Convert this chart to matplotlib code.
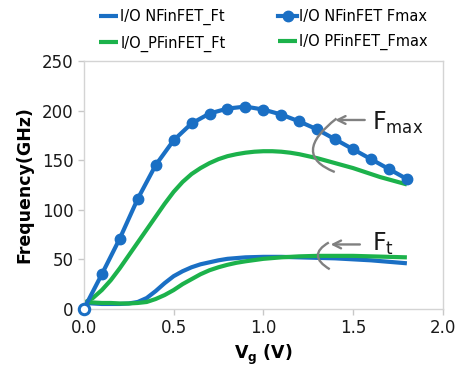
import numpy as np
import matplotlib
matplotlib.use("Agg")
import matplotlib.pyplot as plt
from matplotlib.path import Path
from matplotlib.patches import PathPatch

# ---- data ----
vg_fmax_n = [0.0, 0.1, 0.2, 0.3, 0.4, 0.5, 0.6, 0.7, 0.8, 0.9,
             1.0, 1.1, 1.2, 1.3, 1.4, 1.5, 1.6, 1.7, 1.8]
fmax_n = [0, 35, 71, 111, 145, 170, 187, 197, 202, 204,
          201, 196, 189, 181, 171, 161, 151, 141, 131]

vg_fmax_p = [0.0, 0.05, 0.1, 0.15, 0.2, 0.25, 0.3, 0.35, 0.4, 0.45, 0.5, 0.55,
             0.6, 0.65, 0.7, 0.75, 0.8, 0.85, 0.9, 0.95, 1.0, 1.05, 1.1, 1.15,
             1.2, 1.25, 1.3, 1.35, 1.4, 1.45, 1.5, 1.55, 1.6, 1.65, 1.7, 1.75, 1.8]
fmax_p = [6, 11, 19, 29, 41, 54, 67, 80, 93, 106, 118, 128,
          136, 142, 147, 151, 154, 156, 157.5, 158.5, 159, 159, 158.5, 157.5,
          156, 154, 152, 149.5, 147, 144.5, 142, 139, 136, 133, 130.5, 128, 125.5]

vg_ft_n = [0.0, 0.05, 0.1, 0.15, 0.2, 0.25, 0.3, 0.35, 0.4, 0.45, 0.5, 0.55,
           0.6, 0.65, 0.7, 0.75, 0.8, 0.9, 1.0, 1.1, 1.2, 1.3, 1.4, 1.5,
           1.6, 1.7, 1.8]
ft_n = [6, 5.5, 5, 5, 5, 5.5, 7, 11, 18, 26, 33, 38,
        42, 45, 47, 49, 50.5, 52, 52.5, 52.5, 52, 51.5, 51, 50,
        49, 47.5, 46]

vg_ft_p = [0.0, 0.05, 0.1, 0.15, 0.2, 0.25, 0.3, 0.35, 0.4, 0.45, 0.5, 0.55,
           0.6, 0.65, 0.7, 0.75, 0.8, 0.85, 0.9, 1.0, 1.1, 1.2, 1.3, 1.4,
           1.5, 1.6, 1.7, 1.8]
ft_p = [7, 6.5, 6, 6, 5.5, 5.5, 6, 7, 10, 14, 19, 25,
        30, 35, 39, 42, 44.5, 46.5, 48, 50.5, 52, 53, 53.5, 53.5,
        53.5, 53, 52.5, 52]

labels = ["I/O NFinFET_Ft", "I/O NFinFET Fmax", "I/O_PFinFET_Ft", "I/O PFinFET_Fmax"]
x_ticks = [0.0, 0.5, 1.0, 1.5, 2.0]
y_ticks = [0, 50, 100, 150, 200, 250]

BLUE = "#1a6fc4"
GREEN = "#1cb24b"
GREY = "#808080"

fig = plt.figure(figsize=(4.56, 3.74), dpi=100)
ax = fig.add_axes([0.184, 0.174, 0.787, 0.663])

h_ft_n, = ax.plot(vg_ft_n, ft_n, color=BLUE, lw=3.0, solid_capstyle="butt")
h_ft_p, = ax.plot(vg_ft_p, ft_p, color=GREEN, lw=3.0, solid_capstyle="butt")
h_fmax_p, = ax.plot(vg_fmax_p, fmax_p, color=GREEN, lw=3.0, solid_capstyle="butt")
h_fmax_n, = ax.plot(vg_fmax_n, fmax_n, color=BLUE, lw=3.0, marker="o", ms=7.5,
                    markevery=list(range(1, len(vg_fmax_n))), clip_on=False, zorder=3)
# open marker at the origin
ax.plot(vg_fmax_n[:1], fmax_n[:1], ls="none", marker="o", ms=7.5, mfc="white",
        mec=BLUE, mew=2.2, clip_on=False, zorder=4)

ax.set_xlim(0, 2.0)
ax.set_ylim(0, 250)
ax.set_xticks(x_ticks)
ax.set_xticklabels([f"{v:.1f}" for v in x_ticks])
ax.set_yticks(y_ticks)
ax.tick_params(axis="both", labelsize=12, colors="#c8c8c8", labelcolor="#1a1a1a",
               length=4, width=1, direction="out")
for sp in ax.spines.values():
    sp.set_color("#d4d4d4")
    sp.set_linewidth(1.0)

ax.set_ylabel("Frequency(GHz)", fontsize=12.5, fontweight="bold", labelpad=6)
ax.set_xlabel(r"V$_\mathbf{g}$ (V)", fontsize=12.5, fontweight="bold", labelpad=4)


def bracket(p0, c, p1):
    path = Path([p0, c, p1], [Path.MOVETO, Path.CURVE3, Path.CURVE3])
    ax.add_patch(PathPatch(path, fc="none", ec=GREY, lw=1.7, zorder=5))


# F_max marker
bracket((1.408, 192), (1.15, 156), (1.398, 138))
ax.annotate("", xy=(1.40, 190.5), xytext=(1.565, 190.5),
            arrowprops=dict(arrowstyle="->", color=GREY, lw=1.7,
                            mutation_scale=14, shrinkA=0, shrinkB=0), zorder=5)
ax.text(1.605, 188, r"$\mathregular{F_{max}}$", fontsize=17, color="#1a1a1a",
        ha="left", va="center")

# F_t marker
bracket((1.365, 67), (1.24, 54), (1.37, 40))
ax.annotate("", xy=(1.375, 65), xytext=(1.538, 65),
            arrowprops=dict(arrowstyle="->", color=GREY, lw=1.7,
                            mutation_scale=14, shrinkA=0, shrinkB=0), zorder=5)
ax.text(1.605, 66, r"$\mathregular{F_t}$", fontsize=17, color="#1a1a1a",
        ha="left", va="center")

fig.legend([h_ft_n, h_ft_p, h_fmax_n, h_fmax_p],
           [labels[0], labels[2], labels[1], labels[3]],
           ncol=2, loc="upper left", bbox_to_anchor=(0.195, 1.003),
           frameon=False, fontsize=10.5, handlelength=1.3, handletextpad=0.15,
           columnspacing=3.6, labelspacing=0.7, borderaxespad=0.3)

fig.savefig("out.png", dpi=100, facecolor="white")
